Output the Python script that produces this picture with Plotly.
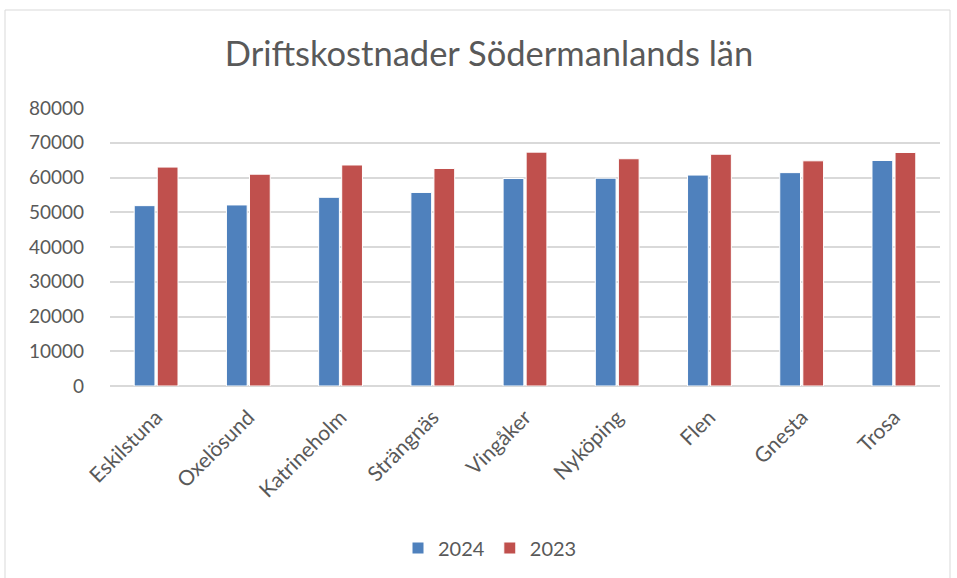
import plotly.graph_objects as go

categories = ["Eskilstuna", "Oxelösund", "Katrineholm", "Strängnäs", "Vingåker",
              "Nyköping", "Flen", "Gnesta", "Trosa"]
values_2024 = [51900, 52100, 54300, 55700, 59700, 59800, 60700, 61400, 64900]
values_2023 = [63000, 60950, 63600, 62600, 67300, 65400, 66700, 64800, 67200]
y_ticks = [0, 10000, 20000, 30000, 40000, 50000, 60000, 70000, 80000]

W, H = 957, 578
ml, mr, mt, mb = 110, 17, 108, 192
FONT = "Lato, 'Open Sans', sans-serif"
GREY = "#595959"

fig = go.Figure()
fig.add_trace(go.Bar(name="2024", x=categories, y=values_2024,
                     marker=dict(color="#4f81bd", line=dict(color="#ffffff", width=1))))
fig.add_trace(go.Bar(name="2023", x=categories, y=values_2023,
                     marker=dict(color="#c0504d", line=dict(color="#ffffff", width=1))))

pw, ph = W - ml - mr, H - mt - mb


def px_x(x):
    return (x - ml) / pw


def px_y(y):
    return (H - mb - y) / ph


fig.add_shape(type="rect", xref="paper", yref="paper",
              x0=px_x(5), x1=px_x(950), y0=px_y(600), y1=px_y(10),
              line=dict(color="#d9d9d9", width=1), layer="below")

fig.update_layout(
    width=W, height=H,
    margin=dict(l=ml, r=mr, t=mt, b=mb, autoexpand=False),
    paper_bgcolor="white", plot_bgcolor="white",
    barmode="group", bargap=0.5, bargroupgap=0.1,
    title=dict(text="Driftskostnader Södermanlands län", x=489 / W, xanchor="center",
               y=1 - 54 / H, yanchor="middle",
               font=dict(family=FONT, size=34.5, color=GREY)),
    font=dict(family=FONT, size=19, color=GREY),
    showlegend=True,
    legend=dict(orientation="h", x=px_x(490), xanchor="center",
                y=px_y(548), yanchor="middle",
                font=dict(size=20, color=GREY), itemwidth=30),
    xaxis=dict(tickangle=-45, showgrid=False, showline=False, ticks="",
               automargin=False, tickfont=dict(size=21, color=GREY),
               ticklabelstandoff=14),
    yaxis=dict(range=[0, 80000], tickvals=y_ticks, ticktext=[str(v) for v in y_ticks],
               showgrid=True, gridcolor="#d9d9d9", gridwidth=1.5,
               zeroline=True, zerolinecolor="#d9d9d9", zerolinewidth=1.5,
               automargin=False,
               tickfont=dict(size=19, color=GREY), ticks="", ticklabelstandoff=25),
)

fig.write_html("out.html", post_script="document.body.style.margin='0';",
               config={"displayModeBar": False})
